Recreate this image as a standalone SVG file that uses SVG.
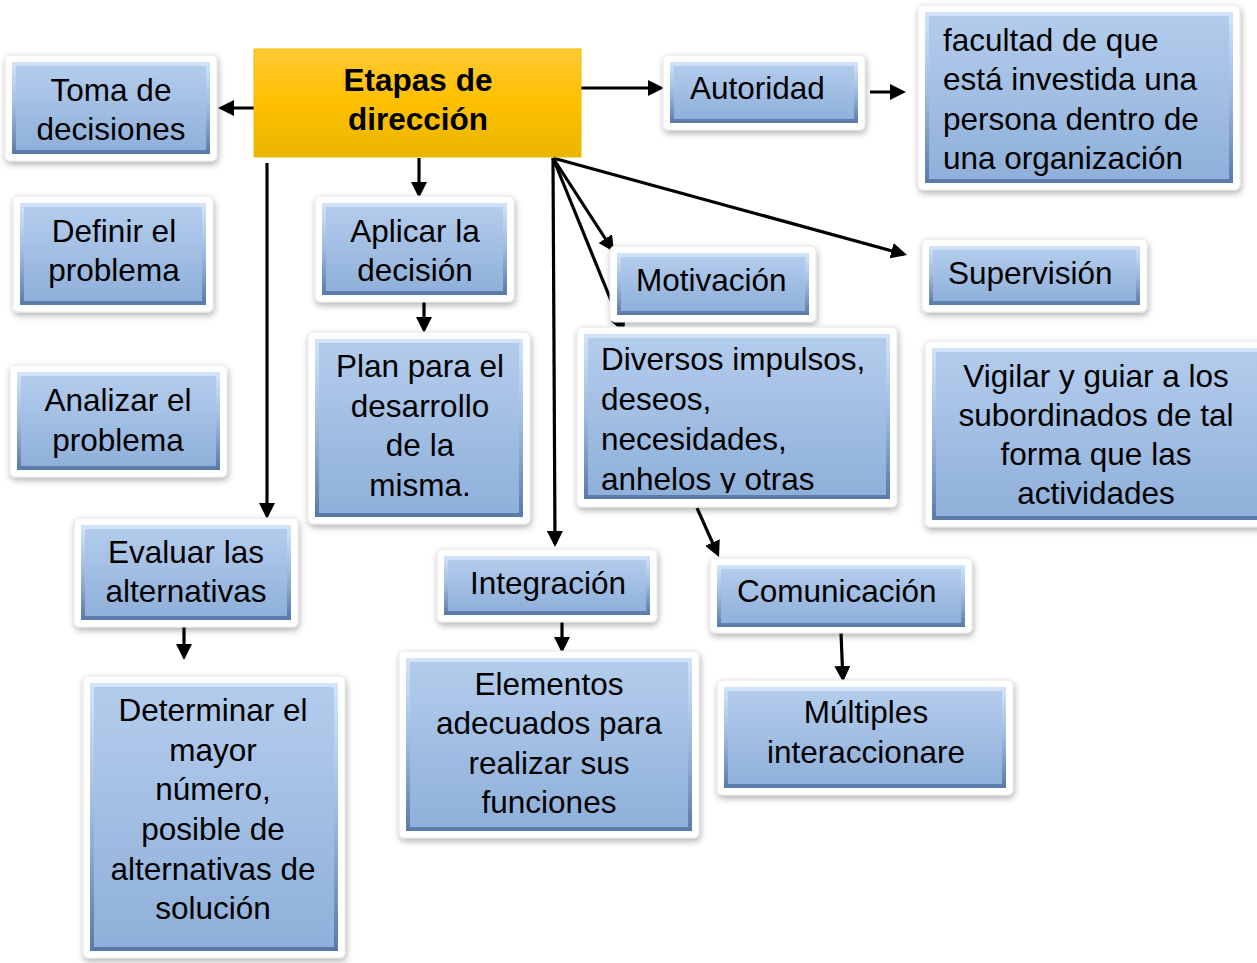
<svg xmlns="http://www.w3.org/2000/svg" width="1257" height="963" viewBox="0 0 1257 963">
<style>
.frame{fill:#fff;stroke:#e6e6e6;stroke-width:1;filter:url(#sh)}
.bevel{fill:url(#gBevel)}
.face{fill:url(#gFace)}
.t{font-family:"Liberation Sans",Arial,sans-serif;font-size:31.5px;fill:#000}
.c{text-anchor:middle}
.b{font-weight:bold}
.conn line{stroke:#000;stroke-width:3.2;marker-end:url(#ah)}
</style>
<defs>
<filter id="sh" x="-10%" y="-10%" width="120%" height="130%">
<feDropShadow dx="1" dy="3" stdDeviation="3" flood-color="#000" flood-opacity="0.3"/>
</filter>
<linearGradient id="gBevel" x1="0" y1="0" x2="0" y2="1">
<stop offset="0" stop-color="#D3E4F9"/>
<stop offset="0.5" stop-color="#9DB9E0"/>
<stop offset="1" stop-color="#587AA8"/>
</linearGradient>
<linearGradient id="gFace" x1="0" y1="0" x2="0" y2="1">
<stop offset="0" stop-color="#B3CCEC"/>
<stop offset="1" stop-color="#8FB0DA"/>
</linearGradient>
<linearGradient id="gOrange" x1="0" y1="0" x2="0" y2="1">
<stop offset="0" stop-color="#FFC935"/>
<stop offset="0.5" stop-color="#FFC000"/>
<stop offset="1" stop-color="#E9B600"/>
</linearGradient>
<marker id="ah" markerUnits="userSpaceOnUse" markerWidth="16" markerHeight="16" refX="13" refY="8" orient="auto">
<path d="M0,0 L16,8 L0,16 z" fill="#000"/>
</marker>
<clipPath id="clipDiv"><rect x="584" y="334" width="306" height="159"/></clipPath>
</defs>

<g id="connectors" class="conn">
<line x1="254" y1="108" x2="221" y2="108"/>
<line x1="581" y1="88" x2="661" y2="88"/>
<line x1="870" y1="92" x2="903" y2="92"/>
<line x1="267" y1="163" x2="267" y2="516"/>
<line x1="419" y1="158" x2="419" y2="195"/>
<line x1="424" y1="297" x2="424" y2="330"/>
<line x1="553" y1="158" x2="555" y2="544"/>
<line x1="553" y1="158" x2="612.4" y2="249.5"/>
<line x1="553" y1="158" x2="623" y2="330"/>
<line x1="553" y1="158" x2="904.1" y2="254.2"/>
<line x1="697" y1="508" x2="717.8" y2="554.3"/>
<line x1="184" y1="624" x2="184" y2="657"/>
<line x1="562" y1="618" x2="562" y2="650"/>
<line x1="841" y1="633" x2="842.9" y2="679"/>
</g>

<g id="etapas">
<rect x="254" y="49" width="327" height="108" fill="url(#gOrange)" stroke="#F2B900" stroke-width="1"/>
<text class="t c b" x="418" y="91">Etapas de</text>
<text class="t c b" x="418" y="130">dirección</text>
</g>

<g id="toma">
<rect class="frame" x="5" y="55" width="212" height="106" rx="5"/>
<rect class="bevel" x="12" y="62" width="198" height="92"/>
<rect class="face" x="16" y="66" width="190" height="84"/>
<text class="t c" x="111" y="101">Toma de</text>
<text class="t c" x="111" y="140">decisiones</text>
</g>

<g id="definir">
<rect class="frame" x="13" y="196" width="200" height="116" rx="5"/>
<rect class="bevel" x="20" y="203" width="186" height="102"/>
<rect class="face" x="24" y="207" width="178" height="94"/>
<text class="t c" x="114" y="242">Definir el</text>
<text class="t c" x="114" y="281">problema</text>
</g>

<g id="analizar">
<rect class="frame" x="10" y="365" width="217" height="112" rx="5"/>
<rect class="bevel" x="17" y="372" width="203" height="98"/>
<rect class="face" x="21" y="376" width="195" height="90"/>
<text class="t c" x="118" y="411">Analizar el</text>
<text class="t c" x="118" y="451">problema</text>
</g>

<g id="evaluar">
<rect class="frame" x="74" y="518" width="224" height="109" rx="5"/>
<rect class="bevel" x="81" y="525" width="210" height="95"/>
<rect class="face" x="85" y="529" width="202" height="87"/>
<text class="t c" x="186" y="563">Evaluar las</text>
<text class="t c" x="186" y="602">alternativas</text>
</g>

<g id="determinar">
<rect class="frame" x="83" y="676" width="262" height="282" rx="5"/>
<rect class="bevel" x="90" y="683" width="248" height="268"/>
<rect class="face" x="94" y="687" width="240" height="260"/>
<text class="t c" x="213" y="721">Determinar el</text>
<text class="t c" x="213" y="761">mayor</text>
<text class="t c" x="213" y="800">número,</text>
<text class="t c" x="213" y="840">posible de</text>
<text class="t c" x="213" y="880">alternativas de</text>
<text class="t c" x="213" y="919">solución</text>
</g>

<g id="aplicar">
<rect class="frame" x="315" y="196" width="199" height="106" rx="5"/>
<rect class="bevel" x="322" y="203" width="185" height="92"/>
<rect class="face" x="326" y="207" width="177" height="84"/>
<text class="t c" x="415" y="242">Aplicar la</text>
<text class="t c" x="415" y="281">decisión</text>
</g>

<g id="plan">
<rect class="frame" x="308" y="332" width="222" height="192" rx="5"/>
<rect class="bevel" x="315" y="339" width="208" height="178"/>
<rect class="face" x="319" y="343" width="200" height="170"/>
<text class="t c" x="420" y="377">Plan para el</text>
<text class="t c" x="420" y="417">desarrollo</text>
<text class="t c" x="420" y="456">de la</text>
<text class="t c" x="420" y="496">misma.</text>
</g>

<g id="integracion">
<rect class="frame" x="437" y="549" width="220" height="73" rx="5"/>
<rect class="bevel" x="444" y="556" width="206" height="59"/>
<rect class="face" x="448" y="560" width="198" height="51"/>
<text class="t c" x="548" y="594">Integración</text>
</g>

<g id="elementos">
<rect class="frame" x="399" y="651" width="300" height="187" rx="5"/>
<rect class="bevel" x="406" y="658" width="286" height="173"/>
<rect class="face" x="410" y="662" width="278" height="165"/>
<text class="t c" x="549" y="695">Elementos</text>
<text class="t c" x="549" y="734">adecuados para</text>
<text class="t c" x="549" y="774">realizar sus</text>
<text class="t c" x="549" y="813">funciones</text>
</g>

<g id="autoridad">
<rect class="frame" x="663" y="55" width="202" height="75" rx="5"/>
<rect class="bevel" x="670" y="62" width="188" height="61"/>
<rect class="face" x="674" y="66" width="180" height="53"/>
<text class="t" x="690" y="99">Autoridad</text>
</g>

<g id="facultad">
<rect class="frame" x="918" y="5" width="322" height="185" rx="5"/>
<rect class="bevel" x="925" y="12" width="308" height="171"/>
<rect class="face" x="929" y="16" width="300" height="163"/>
<text class="t" x="943" y="51">facultad de que</text>
<text class="t" x="943" y="90">está investida una</text>
<text class="t" x="943" y="130">persona dentro de</text>
<text class="t" x="943" y="169">una organización</text>
</g>

<g id="motivacion">
<rect class="frame" x="610" y="246" width="206" height="76" rx="5"/>
<rect class="bevel" x="617" y="253" width="192" height="62"/>
<rect class="face" x="621" y="257" width="184" height="54"/>
<text class="t" x="636" y="291">Motivación</text>
</g>

<g id="supervision">
<rect class="frame" x="922" y="239" width="225" height="73" rx="5"/>
<rect class="bevel" x="929" y="246" width="211" height="59"/>
<rect class="face" x="933" y="250" width="203" height="51"/>
<text class="t" x="948" y="284">Supervisión</text>
</g>

<g id="diversos">
<rect class="frame" x="577" y="327" width="320" height="180" rx="5"/>
<rect class="bevel" x="584" y="334" width="306" height="165"/>
<rect class="face" x="588" y="338" width="298" height="157"/>
<g clip-path="url(#clipDiv)">
<text class="t" x="601" y="370">Diversos impulsos,</text>
<text class="t" x="601" y="410">deseos,</text>
<text class="t" x="601" y="450">necesidades,</text>
<text class="t" x="601" y="490">anhelos y otras</text>
</g>
</g>

<g id="vigilar">
<rect class="frame" x="925" y="341" width="345" height="186" rx="5"/>
<rect class="bevel" x="932" y="348" width="331" height="172"/>
<rect class="face" x="936" y="352" width="323" height="164"/>
<text class="t c" x="1096" y="387">Vigilar y guiar a los</text>
<text class="t c" x="1096" y="426">subordinados de tal</text>
<text class="t c" x="1096" y="465">forma que las</text>
<text class="t c" x="1096" y="504">actividades</text>
</g>

<g id="comunicacion">
<rect class="frame" x="710" y="558" width="262" height="75" rx="5"/>
<rect class="bevel" x="717" y="565" width="248" height="62"/>
<rect class="face" x="721" y="569" width="240" height="54"/>
<text class="t" x="737" y="602">Comunicación</text>
</g>

<g id="multiples">
<rect class="frame" x="717" y="680" width="296" height="115" rx="5"/>
<rect class="bevel" x="724" y="687" width="282" height="101"/>
<rect class="face" x="728" y="691" width="274" height="93"/>
<text class="t c" x="866" y="723">Múltiples</text>
<text class="t c" x="866" y="763">interaccionare</text>
</g>
</svg>
